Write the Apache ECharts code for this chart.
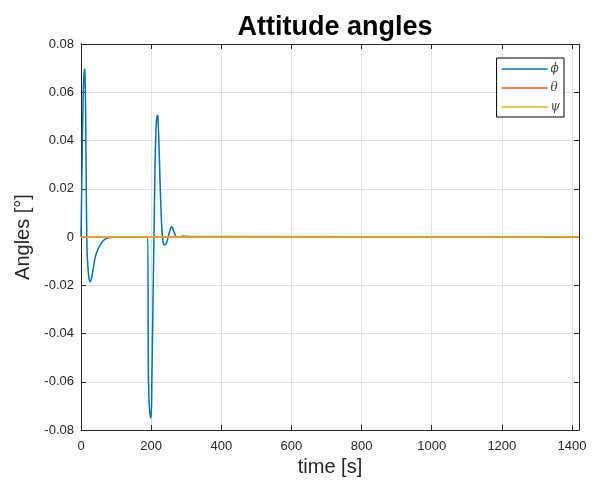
<!DOCTYPE html>
<html>
<head>
<meta charset="utf-8">
<script src="https://cdn.jsdelivr.net/npm/echarts@6/dist/echarts.min.js"></script>
<style>
  html, body { margin: 0; padding: 0; background: #fff; }
  #chart { width: 592px; height: 490px; }
</style>
</head>
<body>
<div id="chart"></div>
<script>
// Roll angle response (time in s, angle in degrees)
const phiTime = [0, 2, 4, 6, 8, 10, 11, 13, 15, 17, 20, 23, 26, 30, 35, 40, 47, 55, 62, 70, 80, 90, 100,
  190, 192, 194, 197, 200, 202, 205, 208, 211, 214, 217, 219, 222, 226, 230, 234, 238, 242, 247, 252, 256,
  259, 263, 268, 273, 280, 290, 300, 310, 1420];
const phiValue = [0, 0.02, 0.04, 0.057, 0.066, 0.0695, 0.069, 0.055, 0.02, -0.004, -0.013, -0.0175, -0.0185,
  -0.017, -0.013, -0.0087, -0.0055, -0.0033, -0.0018, -0.0008, -0.0003, -0.0001, 0,
  0, -0.055, -0.068, -0.0735, -0.075, -0.06, -0.03, 0, 0.028, 0.045, 0.0505, 0.05, 0.04, 0.02, 0.005,
  -0.002, -0.0033, -0.003, -0.001, 0.002, 0.0038, 0.0043, 0.003, 0.001, -0.0001, 0.0001, 0.0003, 0.0003,
  0.0002, 0];
// Pitch and yaw stay at zero for the whole run
const thetaTime = [0, 1420];
const thetaValue = [0, 0];
const psiTime = [0, 1420];
const psiValue = [0, 0];

const xTicks = [0, 200, 400, 600, 800, 1000, 1200, 1400];
const yTicks = [-0.08, -0.06, -0.04, -0.02, 0, 0.02, 0.04, 0.06, 0.08];
const legendNames = ['\u03d5', '\u03b8', '\u03c8'];

const zip = (t, v) => t.map((x, i) => [x, v[i]]);

const axisColor = '#262626';
const gridColor = '#e0e0e0';
const font = 'Liberation Sans, Arial, sans-serif';

const chart = echarts.init(document.getElementById('chart'), null, { renderer: 'canvas' });

const xCommon = {
  type: 'value', min: 0, max: 1420, interval: 200,
  axisLine: { show: true, onZero: false, lineStyle: { color: axisColor, width: 1 } },
  axisTick: { show: true, inside: true, length: 5, lineStyle: { color: axisColor } }
};
const yCommon = {
  type: 'value', min: yTicks[0], max: yTicks[yTicks.length - 1], interval: 0.02,
  axisLine: { show: true, onZero: false, lineStyle: { color: axisColor, width: 1 } },
  axisTick: { show: true, inside: true, length: 5, lineStyle: { color: axisColor } }
};

chart.setOption({
  animation: false,
  backgroundColor: '#ffffff',
  title: {
    text: 'Attitude angles',
    left: 330, top: 9, textAlign: 'center',
    textStyle: { fontFamily: font, fontWeight: 'bold', fontSize: 27, color: '#000' }
  },
  grid: { left: 81, right: 13, top: 44, bottom: 60 },
  legend: {
    data: legendNames.map(n => ({ name: n, icon: 'rect' })),
    orient: 'vertical',
    right: 28, top: 58,
    itemWidth: 46, itemHeight: 1.5, itemGap: 7,
    padding: [5, 4, 4, 5],
    backgroundColor: '#fff',
    borderColor: '#000', borderWidth: 1, borderRadius: 0,
    textStyle: { fontFamily: 'DejaVu Serif, serif', fontStyle: 'italic', fontSize: 12, color: '#444', padding: [0, 0, 0, -2] }
  },
  xAxis: [
    Object.assign({}, xCommon, {
      position: 'bottom',
      name: 'time [s]', nameLocation: 'middle', nameGap: 27,
      nameTextStyle: { fontFamily: font, fontSize: 20, color: axisColor },
      axisLabel: {
        fontFamily: font, fontSize: 13, color: axisColor, margin: 10,
        formatter: v => (xTicks.indexOf(v) >= 0 ? String(v) : '')
      },
      splitLine: { show: true, lineStyle: { color: gridColor, width: 1 } }
    }),
    Object.assign({}, xCommon, {
      position: 'top',
      axisLabel: { show: false },
      splitLine: { show: false }
    })
  ],
  yAxis: [
    Object.assign({}, yCommon, {
      position: 'left',
      name: 'Angles [\u00b0]', nameLocation: 'middle', nameGap: 48,
      nameTextStyle: { fontFamily: font, fontSize: 20, color: axisColor },
      axisLabel: {
        fontFamily: font, fontSize: 13, color: axisColor, margin: 7,
        formatter: v => (Math.abs(v) < 1e-9 ? '0' : v.toFixed(2))
      },
      splitLine: { show: true, lineStyle: { color: gridColor, width: 1 } }
    }),
    Object.assign({}, yCommon, {
      position: 'right',
      axisLabel: { show: false },
      splitLine: { show: false }
    })
  ],
  series: [
    {
      name: legendNames[0], type: 'line', data: zip(phiTime, phiValue),
      smooth: 0.3, showSymbol: false, symbol: 'none',
      lineStyle: { color: '#0072BD', width: 1.5 }, itemStyle: { color: '#0072BD' }
    },
    {
      name: legendNames[1], type: 'line', data: zip(thetaTime, thetaValue),
      showSymbol: false, symbol: 'none',
      lineStyle: { color: '#D95319', width: 1.5 }, itemStyle: { color: '#D95319' }
    },
    {
      name: legendNames[2], type: 'line', data: zip(psiTime, psiValue),
      showSymbol: false, symbol: 'none',
      lineStyle: { color: '#EDB120', width: 1.5 }, itemStyle: { color: '#EDB120' }
    }
  ]
});
</script>
</body>
</html>
